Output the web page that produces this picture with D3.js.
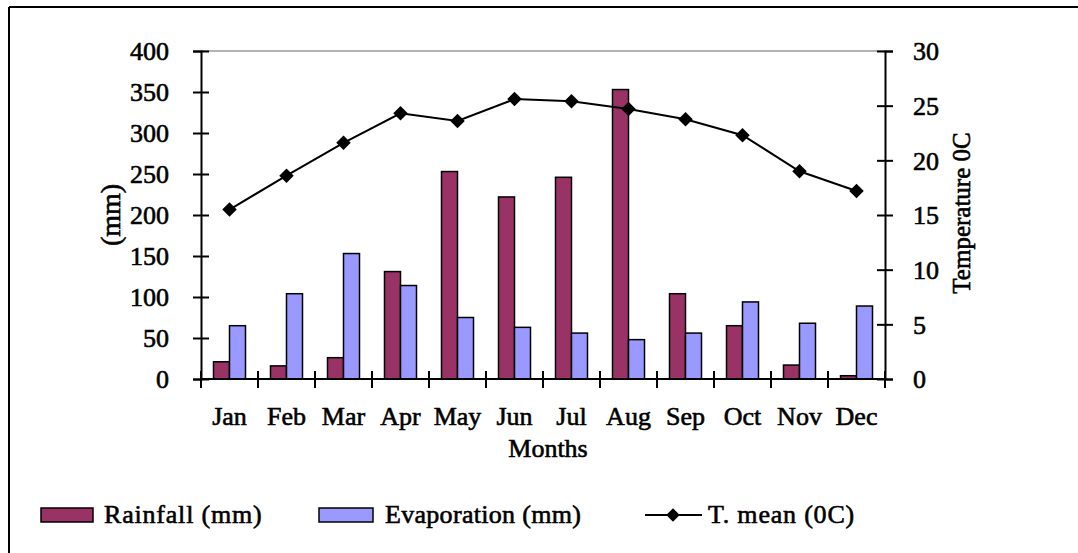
<!DOCTYPE html>
<html>
<head>
<meta charset="utf-8">
<script src="https://cdn.jsdelivr.net/npm/d3@7"></script>
<style>
  html, body { margin: 0; padding: 0; background: #fff; }
  svg { display: block; }
  text { font-family: "Liberation Serif", "Times New Roman", serif; fill: #000; stroke: #000; stroke-width: 0.6px; }
</style>
</head>
<body>
<svg id="chart" width="1078" height="553"></svg>
<script>
// ---- data ----
const months = ["Jan","Feb","Mar","Apr","May","Jun","Jul","Aug","Sep","Oct","Nov","Dec"];
const rainfall = [21, 16, 26, 131, 253, 222, 246, 353, 104, 65, 17, 4];
const evaporation = [65, 104, 153, 114, 75, 63, 56, 48, 56, 94, 68, 89];
const tmean = [15.5, 18.6, 21.6, 24.3, 23.6, 25.6, 25.4, 24.7, 23.75, 22.3, 19.0, 17.2];
const leftTicks = [0, 50, 100, 150, 200, 250, 300, 350, 400];
const rightTicks = [0, 5, 10, 15, 20, 25, 30];
const seriesNames = ["Rainfall (mm)", "Evaporation (mm)", "T. mean (0C)"];
const seriesColors = ["#993366", "#9999FF", "#000000"];

const svg = d3.select("#chart");

// outer frame (top and left edges visible)
svg.append("line").attr("x1", 9).attr("x2", 1078).attr("y1", 7).attr("y2", 7)
  .attr("stroke", "#000").attr("stroke-width", 2);
svg.append("line").attr("x1", 9).attr("x2", 9).attr("y1", 7).attr("y2", 553)
  .attr("stroke", "#000").attr("stroke-width", 2);

const L = 201, R = 885, T = 51, B = 379;

const x = d3.scaleBand().domain(months).range([L, R])
  .paddingInner(25/57).paddingOuter(12.5/57);
const x1 = d3.scaleBand().domain([0, 1]).range([0, x.bandwidth()]);
const y = d3.scaleLinear().domain([0, 400]).range([B, T]);
const y2 = d3.scaleLinear().domain([0, 30]).range([B, T]);

// top gridline
svg.append("line").attr("x1", L).attr("x2", R).attr("y1", y(400)).attr("y2", y(400))
  .attr("stroke", "#999").attr("stroke-width", 1.5);

// bars
const groups = svg.append("g").selectAll("g").data(months).join("g")
  .attr("transform", d => `translate(${x(d)},0)`);
groups.append("rect")
  .attr("x", x1(0)).attr("width", x1.bandwidth())
  .attr("y", (d, i) => y(rainfall[i])).attr("height", (d, i) => y(0) - y(rainfall[i]))
  .attr("fill", seriesColors[0]).attr("stroke", "#000").attr("stroke-width", 1.5);
groups.append("rect")
  .attr("x", x1(1)).attr("width", x1.bandwidth())
  .attr("y", (d, i) => y(evaporation[i])).attr("height", (d, i) => y(0) - y(evaporation[i]))
  .attr("fill", seriesColors[1]).attr("stroke", "#000").attr("stroke-width", 1.5);

// left axis
const ga = svg.append("g").attr("transform", `translate(${L},0)`)
  .call(d3.axisLeft(y).tickValues(leftTicks).tickSize(8).tickPadding(24));
ga.select(".domain").attr("stroke", "#000").attr("stroke-width", 2);
ga.selectAll(".tick line").attr("x1", -8).attr("x2", 8).attr("stroke", "#000").attr("stroke-width", 2);
ga.selectAll(".tick text").attr("font-size", 26).attr("font-family", null).attr("dy", "0.34em");

// right axis
const gb = svg.append("g").attr("transform", `translate(${R},0)`)
  .call(d3.axisRight(y2).tickValues(rightTicks).tickSize(8).tickPadding(20));
gb.select(".domain").attr("stroke", "#000").attr("stroke-width", 2);
gb.selectAll(".tick line").attr("x1", -8).attr("x2", 8).attr("stroke", "#000").attr("stroke-width", 2);
gb.selectAll(".tick text").attr("font-size", 26).attr("font-family", null).attr("dy", "0.34em");

// x axis line and ticks at category boundaries
svg.append("line").attr("x1", L).attr("x2", R).attr("y1", B).attr("y2", B)
  .attr("stroke", "#000").attr("stroke-width", 2);
const step = x.step();
svg.append("g").selectAll("line").data(d3.range(months.length + 1)).join("line")
  .attr("x1", i => L + i * step).attr("x2", i => L + i * step)
  .attr("y1", B - 8).attr("y2", B + 9)
  .attr("stroke", "#000").attr("stroke-width", 2);

// month labels
svg.append("g").selectAll("text").data(months).join("text")
  .attr("x", d => x(d) + x.bandwidth() / 2).attr("y", 425)
  .attr("text-anchor", "middle").attr("font-size", 26).text(d => d);

// axis titles
svg.append("text").attr("x", (L + R) / 2 + 5).attr("y", 457)
  .attr("text-anchor", "middle").attr("font-size", 26).text("Months");
svg.append("text").attr("transform", `translate(120,215) rotate(-90)`)
  .attr("text-anchor", "middle").attr("font-size", 28).text("(mm)");
svg.append("text").attr("transform", `translate(970,213) rotate(-90)`)
  .attr("text-anchor", "middle").attr("font-size", 25).text("Temperature 0C");

// temperature line
const line = d3.line().x((d, i) => x(months[i]) + x.bandwidth() / 2).y(d => y2(d));
svg.append("path").datum(tmean).attr("d", line)
  .attr("fill", "none").attr("stroke", "#000").attr("stroke-width", 2);
const diamond = d3.symbol().type(d3.symbolSquare).size(105);
svg.append("g").selectAll("path").data(tmean).join("path")
  .attr("d", diamond)
  .attr("transform", (d, i) => `translate(${x(months[i]) + x.bandwidth() / 2},${y2(d)}) rotate(45)`)
  .attr("fill", "#000");

// legend
const ly = 515;
const leg = svg.append("g");
leg.append("rect").attr("x", 41).attr("y", ly - 7).attr("width", 52).attr("height", 14)
  .attr("fill", seriesColors[0]).attr("stroke", "#000").attr("stroke-width", 1.5);
leg.append("text").attr("x", 104).attr("y", ly + 8).attr("font-size", 26).attr("letter-spacing", 0.8).text(seriesNames[0]);
leg.append("rect").attr("x", 319).attr("y", ly - 7).attr("width", 54).attr("height", 14)
  .attr("fill", seriesColors[1]).attr("stroke", "#000").attr("stroke-width", 1.5);
leg.append("text").attr("x", 385).attr("y", ly + 8).attr("font-size", 26).attr("letter-spacing", 0.3).text(seriesNames[1]);
leg.append("line").attr("x1", 645).attr("x2", 702).attr("y1", ly).attr("y2", ly)
  .attr("stroke", "#000").attr("stroke-width", 2);
leg.append("path").attr("d", d3.symbol().type(d3.symbolSquare).size(90))
  .attr("transform", `translate(673,${ly}) rotate(45)`).attr("fill", "#000");
leg.append("text").attr("x", 708).attr("y", ly + 8).attr("font-size", 26).attr("letter-spacing", 0.8).text(seriesNames[2]);
</script>
</body>
</html>
